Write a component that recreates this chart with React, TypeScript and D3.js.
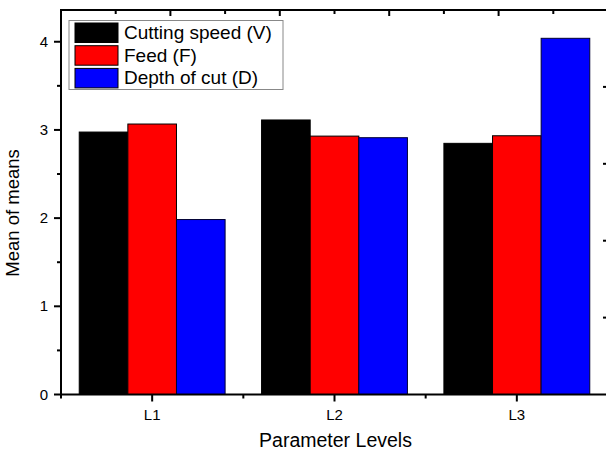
import React, { useEffect, useRef } from 'react';
import * as d3 from 'd3';

// data
const levels: string[] = ['L1', 'L2', 'L3'];
const seriesNames: string[] = ['Cutting speed (V)', 'Feed (F)', 'Depth of cut (D)'];
const seriesColors: string[] = ['#000000', '#ff0000', '#0000ff'];
const seriesStroke: string[] = ['#000000', '#000000', '#000033'];
const speedV: number[] = [2.976, 3.113, 2.848];
const feedF: number[] = [3.067, 2.93, 2.934];
const depthD: number[] = [1.984, 2.912, 4.039];
const yTicks: number[] = [0, 1, 2, 3, 4];

const W = 606;
const H = 452;
const FONT = '"Liberation Sans", Arial, sans-serif';

const App = () => {
    const ref = useRef<SVGSVGElement>(null);

    useEffect(() => {
        if (!ref.current) return;
        const svg = d3.select(ref.current);
        svg.selectAll('*').remove();

        const left = 61, right = 608, top = 10, bottom = 394.5;
        const values = [speedV, feedF, depthD];

        // scales
        const x = d3.scaleLinear().domain([0.5, 3.5]).range([left, right]);
        const y = d3.scaleLinear().domain([0, 4.36]).range([bottom, top]);
        const groupW = x(1.4) - x(0.6);
        const inner = d3.scaleBand<number>().domain([0, 1, 2]).range([-groupW / 2, groupW / 2]).padding(0);

        // bars
        values.forEach((vals, si) => {
            svg.selectAll('.bar' + si)
               .data(vals)
               .enter()
               .append('rect')
               .attr('x', (d, i) => x(i + 1) + (inner(si) as number))
               .attr('y', d => y(d))
               .attr('width', inner.bandwidth())
               .attr('height', d => bottom - y(d))
               .attr('fill', seriesColors[si])
               .attr('stroke', seriesStroke[si])
               .attr('stroke-width', 1);
        });

        const axisColor = '#000';
        const tk = (x1: number, y1: number, x2: number, y2: number) =>
            svg.append('line')
               .attr('x1', x1).attr('y1', y1).attr('x2', x2).attr('y2', y2)
               .attr('stroke', axisColor).attr('stroke-width', 2);

        // frame
        tk(left, top, right, top);
        tk(left, top - 1, left, bottom + 1);
        tk(left, bottom, right, bottom);
        tk(right, top, right, bottom);

        // left axis: outward ticks, minor at halves
        d3.range(0, 4.5, 0.5).forEach(v => {
            const major = Number.isInteger(v);
            tk(left - (major ? 7 : 4), y(v), left, y(v));
        });
        yTicks.forEach(v => {
            svg.append('text')
               .attr('x', 48).attr('y', y(v) + 5)
               .attr('text-anchor', 'end')
               .attr('font-family', FONT).attr('font-size', 15)
               .text(v);
        });

        // bottom axis: outward ticks at levels, minor between
        [0.5, 1, 1.5, 2, 2.5, 3, 3.5].forEach(v => {
            const major = Number.isInteger(v);
            tk(x(v), bottom, x(v), bottom + (major ? 7 : 4));
        });
        levels.forEach((l, i) => {
            svg.append('text')
               .attr('x', x(i + 1)).attr('y', 419.5)
               .attr('text-anchor', 'middle')
               .attr('font-family', FONT).attr('font-size', 15)
               .text(l);
        });

        // top axis (unlabelled): inward ticks
        const xt = d3.scaleLinear().domain([0, 5]).range([left, right]);
        d3.range(0, 5.5, 0.5).forEach(v => {
            const major = Number.isInteger(v);
            tk(xt(v), top, xt(v), top + (major ? 6 : 4));
        });

        // right axis (unlabelled): inward ticks
        const yr = d3.scaleLinear().domain([0, 5]).range([bottom, top]);
        [1, 2, 3, 4].forEach(v => tk(right - 5, yr(v), right, yr(v)));

        // axis titles
        svg.append('text')
           .attr('x', 335.5).attr('y', 447)
           .attr('text-anchor', 'middle')
           .attr('font-family', FONT).attr('font-size', 19.5)
           .text('Parameter Levels');
        svg.append('text')
           .attr('transform', 'translate(19,213) rotate(-90)')
           .attr('text-anchor', 'middle')
           .attr('font-family', FONT).attr('font-size', 18.5)
           .text('Mean of means');

        // legend
        const lg = svg.append('g');
        lg.append('rect')
          .attr('x', 69).attr('y', 20.5).attr('width', 214).attr('height', 69)
          .attr('fill', '#fff').attr('stroke', '#888').attr('stroke-width', 1);
        seriesNames.forEach((name, i) => {
            const ry = 23 + i * 22.7;
            lg.append('rect')
              .attr('x', 75).attr('y', ry).attr('width', 43).attr('height', 19.5)
              .attr('fill', seriesColors[i]).attr('stroke', '#000').attr('stroke-width', 1);
            lg.append('text')
              .attr('x', 124).attr('y', ry + 16)
              .attr('font-family', FONT).attr('font-size', 19)
              .text(name);
        });
    }, []);

    return (
        <svg ref={ref} width={W} height={H}
             style={{ position: 'absolute', left: 0, top: 0, background: '#fff' }} />
    );
};

export default App;
